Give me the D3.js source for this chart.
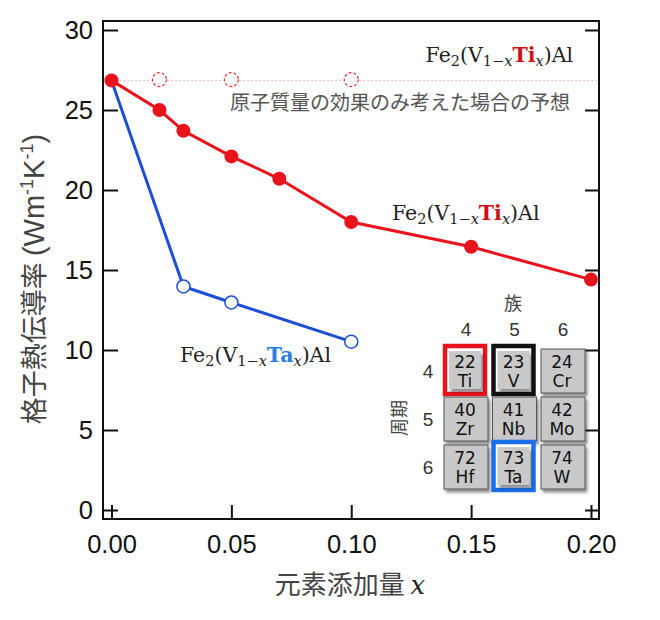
<!DOCTYPE html>
<html><head><meta charset="utf-8">
<script src="https://cdn.jsdelivr.net/npm/d3@7"></script>
<style>html,body{margin:0;padding:0;background:#fff;}</style>
</head><body>
<svg id="c" width="660" height="620"></svg>
<script>
// ---- data ----
const tiX = [0, 0.02, 0.03, 0.05, 0.07, 0.10, 0.15, 0.20];
const tiY = [26.85, 25.0, 23.7, 22.1, 20.7, 18.0, 16.45, 14.4];
const taX = [0, 0.03, 0.05, 0.10];
const taY = [26.85, 13.97, 12.97, 10.52];
const predX = [0.02, 0.05, 0.10];
const predY = [26.9, 26.9, 26.9];
const predLevel = 26.85;
const xTicks = [0, 0.05, 0.10, 0.15, 0.20];
const yTicks = [0, 5, 10, 15, 20, 25, 30];
const ptGroups = ["4", "5", "6"];
const ptPeriods = ["4", "5", "6"];
const ptNumbers = [["22","23","24"],["40","41","42"],["72","73","74"]];
const ptSymbols = [["Ti","V","Cr"],["Zr","Nb","Mo"],["Hf","Ta","W"]];
const ptHighlight = [[0,0,"#e8131b"],[0,1,"#111111"],[2,1,"#1a6ee8"]];

const RED = "#e8131b", BLUE = "#1d4fd6", TABLUE = "#2a7de0";
const svg = d3.select("#c");
const L = 103, R = 599, T = 21, B = 519;
const x = d3.scaleLinear().domain([0, 0.2]).range([111.5, 591]);
const y = d3.scaleLinear().domain([0, 30]).range([510, 30]);

const defs = svg.append("defs");
const f = defs.append("filter").attr("id","sh").attr("x","-20%").attr("y","-20%").attr("width","150%").attr("height","150%");
f.append("feDropShadow").attr("dx",2).attr("dy",3).attr("stdDeviation",1.6).attr("flood-color","#000").attr("flood-opacity",0.45);

// axes
const fontTick = "'Liberation Sans', Arial, sans-serif";
const gl = svg.append("g").attr("transform",`translate(${L},0)`)
  .call(d3.axisLeft(y).tickValues(yTicks).tickSize(-15).tickPadding(10).tickFormat(d3.format("d")));
const gr = svg.append("g").attr("transform",`translate(${R},0)`)
  .call(d3.axisRight(y).tickValues(yTicks).tickSize(-14).tickFormat(""));
const gb = svg.append("g").attr("transform",`translate(0,${B})`)
  .call(d3.axisBottom(x).tickValues(xTicks).tickSize(-14).tickPadding(16).tickFormat(d3.format(".2f")));
[gl,gr,gb].forEach(g=>{
  g.select(".domain").remove();
  g.selectAll(".tick line").attr("stroke","#111").attr("stroke-width",2);
  g.selectAll(".tick text").attr("fill","#111").style("font-family",fontTick).style("font-size","25.5px");
});
gb.selectAll(".tick text").attr("dy","0.71em");
svg.append("rect").attr("x",L).attr("y",T).attr("width",R-L).attr("height",B-T)
  .attr("fill","none").attr("stroke","#111").attr("stroke-width",2);

// axis titles
const yl = svg.append("text").attr("transform","translate(44,279) rotate(-90)")
  .attr("text-anchor","middle").attr("fill","#444")
  .style("font-family","'Noto Sans CJK JP', sans-serif").style("font-size","27px");
yl.append("tspan").text("格子熱伝導率 ");
const lat = "'Liberation Sans', Arial, sans-serif";
yl.append("tspan").style("font-family",lat).style("font-size","29px").text("(Wm");
yl.append("tspan").attr("dy",-11).style("font-family",lat).style("font-size","18px").text("-1");
yl.append("tspan").attr("dy",11).style("font-family",lat).style("font-size","29px").text("K");
yl.append("tspan").attr("dy",-11).style("font-family",lat).style("font-size","18px").text("-1");
yl.append("tspan").attr("dy",11).style("font-family",lat).style("font-size","29px").text(")");

const xl = svg.append("text").attr("x",350).attr("y",594).attr("text-anchor","middle").attr("fill","#444")
  .style("font-family","'Noto Sans CJK JP', sans-serif").style("font-size","26px");
xl.append("tspan").text("元素添加量 ");
xl.append("tspan").style("font-family","'DejaVu Serif', serif").style("font-style","italic").attr("fill","#222").text("x");

// predicted dotted line and dashed circles
svg.append("line").attr("x1",x(0)).attr("x2",R-2).attr("y1",y(predLevel)).attr("y2",y(predLevel))
  .attr("stroke","#f0a8a8").attr("stroke-width",1).attr("stroke-dasharray","1.5,2.5");
svg.append("g").selectAll("circle").data(predX).join("circle")
  .attr("cx",d=>x(d)).attr("cy",(d,i)=>y(predY[i])).attr("r",7)
  .attr("fill","#fff").attr("stroke","#d83030").attr("stroke-width",1.2).attr("stroke-dasharray","3,2");

// lines
const line = d3.line().x(d=>x(d[0])).y(d=>y(d[1]));
const taData = taX.map((v,i)=>[v,taY[i]]);
const tiData = tiX.map((v,i)=>[v,tiY[i]]);
svg.append("path").datum(taData).attr("d",line).attr("fill","none").attr("stroke",BLUE).attr("stroke-width",3);
svg.append("path").datum(tiData).attr("d",line).attr("fill","none").attr("stroke",RED).attr("stroke-width",3);
svg.append("g").selectAll("circle").data(taData.slice(1)).join("circle")
  .attr("cx",d=>x(d[0])).attr("cy",d=>y(d[1])).attr("r",6.5)
  .attr("fill","#fff").attr("stroke",BLUE).attr("stroke-width",1.5);
svg.append("g").selectAll("circle").data(tiData).join("circle")
  .attr("cx",d=>x(d[0])).attr("cy",d=>y(d[1])).attr("r",7)
  .attr("fill",RED);

// formula labels
function formula(px, py, elem, color, anchor){
  const t = svg.append("text").attr("x",px).attr("y",py).attr("text-anchor",anchor||"start")
    .attr("fill","#222").style("font-family","'DejaVu Serif', serif").style("font-size","20.5px");
  t.append("tspan").text("Fe");
  t.append("tspan").attr("dy",4).style("font-size","14.5px").text("2");
  t.append("tspan").attr("dy",-4).text("(V");
  t.append("tspan").attr("dy",4).style("font-size","14.5px").text("1−");
  t.append("tspan").style("font-size","14.5px").style("font-style","italic").text("x");
  t.append("tspan").attr("dy",-4).attr("fill",color).style("font-weight","bold").text(elem);
  t.append("tspan").attr("dy",4).style("font-size","14.5px").style("font-style","italic").text("x");
  t.append("tspan").attr("dy",-4).text(")Al");
}
formula(573, 62, "Ti", "#d01018", "end");
formula(392, 220, "Ti", "#d01018", "start");
formula(180, 362, "Ta", TABLUE, "start");

svg.append("text").attr("x",570).attr("y",110).attr("text-anchor","end").attr("fill","#555")
  .style("font-family","'Noto Sans CJK JP', sans-serif").style("font-size","20px")
  .text("原子質量の効果のみ考えた場合の予想");

// periodic table inset
const cx0 = 444, cy0 = 349, pitchX = 48.5, pitchY = 48, cw = 44, ch = 44;
const pt = svg.append("g");
const jp = "'Noto Sans CJK JP', sans-serif";
pt.append("text").attr("x",513).attr("y",310).attr("text-anchor","middle").attr("fill","#444")
  .style("font-family",jp).style("font-size","18px").text("族");
pt.selectAll(".gl").data(ptGroups).join("text").attr("class","gl")
  .attr("x",(d,i)=>cx0+cw/2+i*pitchX).attr("y",336).attr("text-anchor","middle").attr("fill","#333")
  .style("font-family",fontTick).style("font-size","19px").text(d=>d);
pt.selectAll(".pl").data(ptPeriods).join("text").attr("class","pl")
  .attr("x",428).attr("y",(d,i)=>cy0+ch/2+7+i*pitchY).attr("text-anchor","middle").attr("fill","#333")
  .style("font-family",fontTick).style("font-size","19px").text(d=>d);
pt.append("text").attr("transform","translate(406,418) rotate(-90)").attr("text-anchor","middle").attr("fill","#444")
  .style("font-family",jp).style("font-size","18px").text("周期");

const cells = [];
ptNumbers.forEach((row,r)=>row.forEach((n,c)=>cells.push({r,c,n,s:ptSymbols[r][c]})));
const hl = {};
ptHighlight.forEach(h=>hl[h[0]+"_"+h[1]]=h[2]);
cells.forEach(d=>{
  const X = cx0 + d.c*pitchX, Y = cy0 + d.r*pitchY;
  const key = d.r+"_"+d.c;
  if (hl[key]) {
    pt.append("rect").attr("x",X+1).attr("y",Y-3).attr("width",cw-4).attr("height",ch+4)
      .attr("fill","#fff").attr("stroke",hl[key]).attr("stroke-width",4.5);
    pt.append("rect").attr("x",X+5).attr("y",Y+2).attr("width",cw-12).attr("height",ch-6)
      .attr("fill","#c9c9c9").attr("filter","url(#sh)");
  } else {
    pt.append("rect").attr("x",X).attr("y",Y).attr("width",cw).attr("height",ch)
      .attr("fill","#c8c8c8").attr("stroke","#555").attr("stroke-width",1).attr("filter","url(#sh)");
  }
  pt.append("text").attr("x",X+cw/2-1).attr("y",Y+19).attr("text-anchor","middle").attr("fill","#111")
    .style("font-family","'DejaVu Sans', sans-serif").style("font-size","17px").text(d.n);
  pt.append("text").attr("x",X+cw/2-1).attr("y",Y+38).attr("text-anchor","middle").attr("fill","#111")
    .style("font-family","'DejaVu Sans', sans-serif").style("font-size","17px").text(d.s);
});
</script>
</body></html>
